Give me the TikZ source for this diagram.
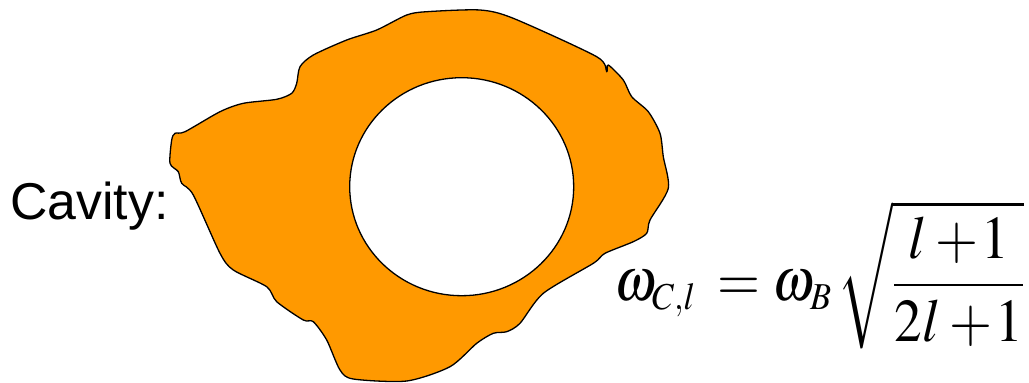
\documentclass[tikz,border=0pt]{standalone}
\usepackage{mathptmx}
\usepackage{fontspec}
\setmainfont{Liberation Sans}
\DeclareMathSizes{56}{56}{35}{24}
\definecolor{cavorange}{RGB}{255,153,0}
\tikzset{
  blob/.style={fill=cavorange, draw=black, line width=1.3bp, line join=round},
  hole/.style={fill=white, draw=black, line width=1.3bp},
  lbl/.style={inner sep=0pt, font=\fontsize{52}{56}\selectfont},
  eq/.style={inner sep=0pt, font=\fontsize{56}{60}\selectfont}
}
\begin{document}
\begin{tikzpicture}[x=1bp,y=-1bp]
\useasboundingbox (0,0) rectangle (1029,382);
\path[blob] plot[smooth cycle, tension=0.45] coordinates {
 (376.7,30) (406.7,15) (426.7,11.7) (480,10) (513.3,18.3) (596.7,56.7)
 (606.7,71.7) (608.3,65) (623.3,80) (631.7,96.7) (648.3,111.7) (660,133.3)
 (663.3,156.7) (668.3,188.3) (650,220) (646.7,233.3) (633.3,241.7) (605,253.3)
 (593.3,263.3) (543.3,293.3) (520,323.3) (506.7,331.7) (493.3,333.3) (476.7,343.3)
 (450,366.7) (406.7,381) (353.3,379) (340,370) (326.7,340) (313.3,321.7)
 (303.3,320) (276.7,301.7) (266.7,286.7) (233.3,270) (220,253.3) (193.3,195)
 (181.7,183.3) (178.3,171.7) (170,163.3) (171.7,140) (175,133.3) (185,131.7)
 (220,111.7) (243.3,103.3) (276.7,99.3) (291.7,93.3) (296.7,83.3) (300,66.7)
 (313.3,55) (346.7,40)};
\path[hole] (461.7,186.7) ellipse [x radius=112, y radius=109];
\node[lbl, anchor=base west] (cav) at (10,219) {Cavity:};
\node[eq, anchor=base west] (formula) at (614,300)
  {\scalebox{1}[1.1]{\resizebox{410bp}{!}{$\displaystyle \omega_{C,l}\mkern3mu = \omega_B\mkern2mu
   \sqrt{\frac{l\mkern3mu{+}\mkern1mu1}{2l\mkern3mu{+}\mkern1mu1}}$}}};
\end{tikzpicture}
\end{document}
